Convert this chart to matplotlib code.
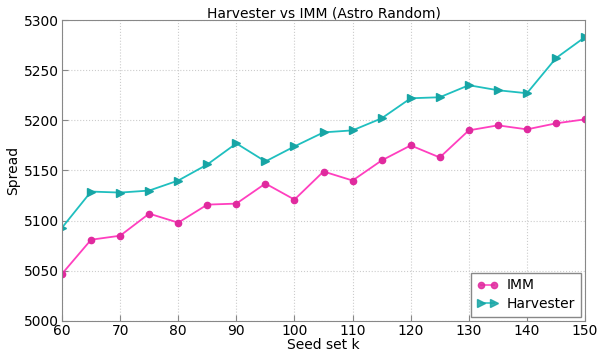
import matplotlib
matplotlib.use("Agg")
import matplotlib.pyplot as plt

k = [60, 65, 70, 75, 80, 85, 90, 95, 100, 105, 110, 115, 120, 125, 130, 135, 140, 145, 150]
imm = [5047, 5081, 5085, 5107, 5098, 5116, 5117, 5137, 5121, 5149, 5140, 5160, 5175, 5163, 5190, 5195, 5191, 5197, 5201]
harvester = [5093, 5129, 5128, 5130, 5140, 5156, 5177, 5159, 5174, 5188, 5190, 5202, 5222, 5223, 5235, 5230, 5227, 5262, 5283]

plt.rcParams['font.family'] = ['DejaVu Sans']
fig = plt.figure(figsize=(6.05, 3.51), dpi=100)
ax = fig.add_axes([0.1025, 0.0855, 0.8645, 0.8575])

ax.plot(k, imm, color='#ff3fbf', lw=1.3, marker='o', ms=4.5,
        markerfacecolor='#e02a9e', markeredgecolor='#e02a9e', label='IMM')
ax.plot(k, harvester, color='#1fbfbf', lw=1.3, marker='>', ms=5.5,
        markerfacecolor='#17a5a5', markeredgecolor='#17a5a5', label='Harvester')

ax.set_xlim(60, 150)
ax.set_ylim(5000, 5300)
ax.set_xticks(range(60, 151, 10))
ax.set_yticks(range(5000, 5301, 50))
ax.grid(True, color='#cccccc', linestyle=':', linewidth=0.8)
for s in ax.spines.values():
    s.set_color('#888888')
ax.tick_params(direction='in', colors='#888888', labelcolor='black', labelsize=10, length=4, pad=2)
ax.set_xlabel('Seed set k', fontsize=10, labelpad=0)
ax.set_ylabel('Spread', fontsize=10, labelpad=3)
ax.set_title('Harvester vs IMM (Astro Random)', fontsize=10, pad=2)
leg = ax.legend(loc='lower right', numpoints=2, fontsize=10, fancybox=False,
                framealpha=1, edgecolor='#888888', borderaxespad=0.3,
                handlelength=1.6, handletextpad=0.6, borderpad=0.4, labelspacing=0.35)
leg.get_frame().set_linewidth(1.0)
for h in leg.get_lines():
    h.set_alpha(0.85)
fig.savefig('out.png', dpi=100)
